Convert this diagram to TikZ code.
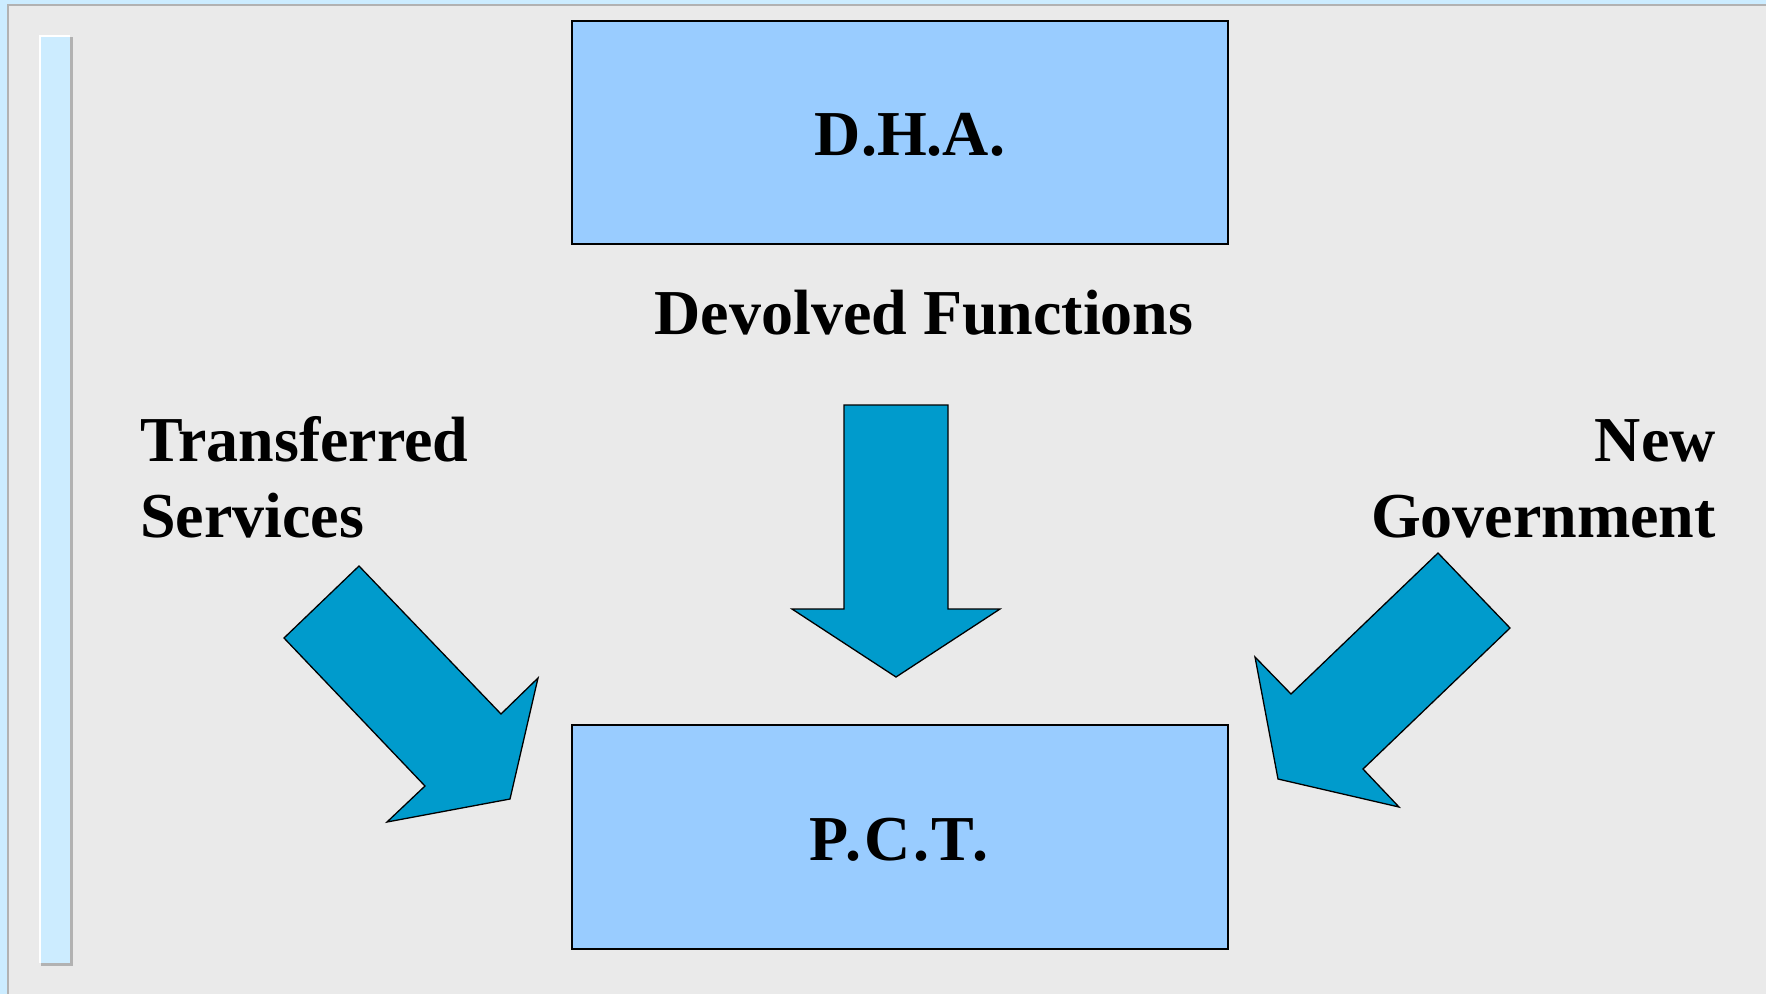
\documentclass[tikz,border=0pt]{standalone}
\usepackage{fontspec}
\setmainfont{Liberation Serif}
\definecolor{slidebg}{HTML}{EAEAEA}
\definecolor{paleblue}{HTML}{CCECFF}
\definecolor{rimgray}{HTML}{B2B2B2}
\definecolor{boxblue}{HTML}{99CCFF}
\definecolor{arrowblue}{HTML}{009BCC}
\tikzset{
  unitbox/.style={draw=black, line width=1.6pt, fill=boxblue},
  blockarrow/.style={draw=black, line width=1.3pt, fill=arrowblue, line join=miter},
  bigtext/.style={font=\fontsize{64}{76}\selectfont\bfseries, inner sep=0pt, text=black},
}
\begin{document}
\begin{tikzpicture}[x=1pt, y=-1pt]
  % page and frame
  \useasboundingbox (0,0) rectangle (1766,994);
  \fill[slidebg] (0,0) rectangle (1766,994);
  \fill[paleblue] (0,0) rectangle (7,994);
  \fill[paleblue] (0,0) rectangle (1766,4);
  \fill[rimgray] (7,4) rectangle (9,994);
  \fill[rimgray] (7,4) rectangle (1766,6);
  % bevelled side bar
  \fill[rimgray] (41,37) rectangle (73,966);
  \fill[white] (39,35) rectangle (70,963);
  \fill[paleblue] (41,37) rectangle (70,963);

  % boxes
  \draw[unitbox] (572,21) rectangle (1228,244);
  \draw[unitbox] (572,725) rectangle (1228,949);
  \node[bigtext, anchor=base] (dha) at (910,155) {D.H.A.};
  \node[bigtext, anchor=base] (pct) at (899,860) {\addfontfeature{LetterSpace=4}P.C.T.};

  % labels
  \node[bigtext, anchor=base] (devolved) at (924,334) {Devolved Functions};
  \node[bigtext, anchor=base west] (transferred) at (140,461) {Transferred};
  \node[bigtext, anchor=base west] (services) at (140,537) {Services};
  \node[bigtext, anchor=base east] (new) at (1716,461) {New};
  \node[bigtext, anchor=base east] (government) at (1716,537) {Government};

  % block arrows
  \draw[blockarrow] (844,405) -- (948,405) -- (948,609) -- (1000,609)
    -- (896,677) -- (792,609) -- (844,609) -- cycle;
  \draw[blockarrow] (359,566) -- (501,714) -- (538,678) -- (510,799)
    -- (387,822) -- (425,786) -- (284,638) -- cycle;
  \draw[blockarrow] (1438,553) -- (1510,628) -- (1363,769) -- (1399,807)
    -- (1278,779) -- (1255,657) -- (1291,694) -- cycle;
\end{tikzpicture}
\end{document}
